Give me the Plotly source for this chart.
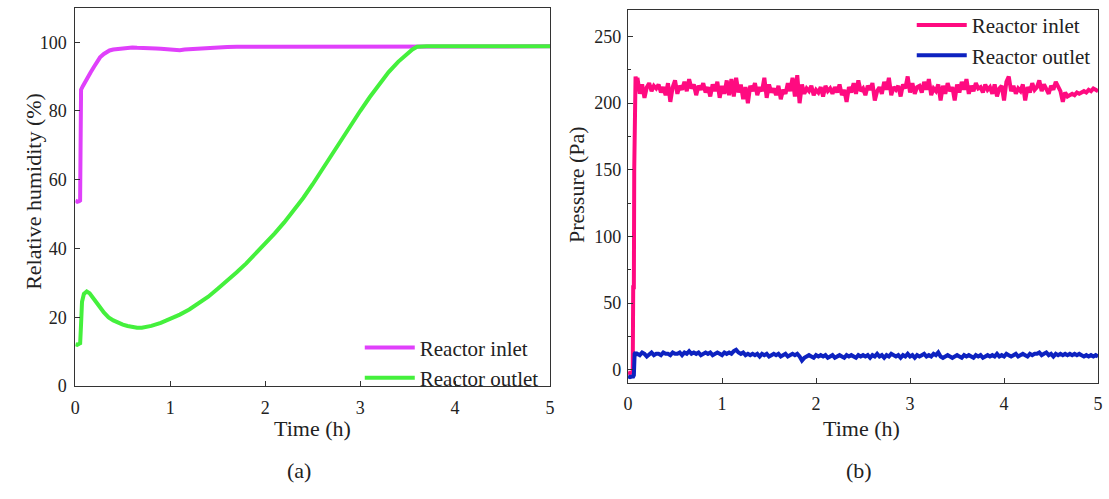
import plotly.graph_objects as go

# ---------------- data ----------------
# (a) relative humidity
RH_IN_T = [0.0, 0.02, 0.04, 0.05, 0.055, 0.06, 0.08, 0.10, 0.13, 0.16, 0.20, 0.23, 0.26, 0.30,
           0.33, 0.36, 0.40, 0.45, 0.50, 0.55, 0.60, 0.65, 0.70, 0.75, 0.80, 0.85, 0.90, 0.95,
           1.00, 1.05, 1.10, 1.15, 1.20, 1.30, 1.40, 1.50, 1.60, 1.70, 1.80, 2.00, 2.50, 3.00,
           3.60, 4.00, 4.50, 5.00]
RH_IN = [54.0, 53.6, 53.8, 54.0, 70.0, 86.2, 87.3, 88.4, 89.8, 91.2, 93.0, 94.3, 95.6, 96.6,
         97.2, 97.6, 97.9, 98.1, 98.3, 98.4, 98.5, 98.4, 98.4, 98.3, 98.3, 98.2, 98.1, 98.0,
         97.8, 97.7, 97.7, 97.9, 98.0, 98.2, 98.4, 98.5, 98.6, 98.7, 98.7, 98.7, 98.8, 98.8,
         98.8, 98.8, 98.9, 98.8]

RH_OUT_T = [0.0, 0.02, 0.04, 0.05, 0.06, 0.07, 0.09, 0.12, 0.15, 0.20, 0.25, 0.30, 0.35, 0.40,
            0.45, 0.50, 0.55, 0.60, 0.65, 0.70, 0.75, 0.80, 0.90, 1.00, 1.10, 1.20, 1.30, 1.40,
            1.50, 1.60, 1.70, 1.80, 1.90, 2.00, 2.10, 2.20, 2.30, 2.40, 2.50, 2.60, 2.70, 2.80,
            2.90, 3.00, 3.10, 3.20, 3.30, 3.40, 3.50, 3.55, 3.60, 3.70, 4.00, 4.50, 5.00]
RH_OUT = [12.2, 12.0, 12.3, 12.1, 18.0, 24.5, 26.8, 27.5, 27.0, 25.3, 23.3, 21.4, 20.0, 19.1,
          18.4, 17.9, 17.5, 17.2, 17.0, 17.0, 17.2, 17.5, 18.4, 19.5, 20.8, 22.3, 24.0, 26.0,
          28.3, 30.6, 33.1, 35.7, 38.5, 41.4, 44.4, 47.6, 51.0, 54.7, 58.7, 63.0, 67.4, 71.8,
          76.0, 80.0, 84.0, 87.8, 91.3, 94.3, 96.8, 97.9, 98.7, 98.8, 98.8, 98.8, 98.8]

# (b) pressure
P_START_T = [0.0, 0.02, 0.04, 0.05, 0.055, 0.062, 0.066, 0.07, 0.08, 0.09]
P_IN_START = [-2.0, -2.5, -2.0, -1.5, 62.0, 62.0, 150.0, 213.0, 220.0, 210.0]
P_OUT_START = [-5.0, -5.5, -5.0, -5.0, -5.0, -4.0, 11.0, 12.0, 13.0, 11.0]

P_T = [0.100, 0.125, 0.150, 0.175, 0.200, 0.225, 0.250, 0.275, 0.300, 0.325,
       0.350, 0.375, 0.400, 0.425, 0.450, 0.475, 0.500, 0.525, 0.550, 0.575,
       0.600, 0.625, 0.650, 0.675, 0.700, 0.725, 0.750, 0.775, 0.800, 0.825,
       0.850, 0.875, 0.900, 0.925, 0.950, 0.975, 1.000, 1.025, 1.050, 1.075,
       1.100, 1.125, 1.150, 1.175, 1.200, 1.225, 1.250, 1.275, 1.300, 1.325,
       1.350, 1.375, 1.400, 1.425, 1.450, 1.475, 1.500, 1.525, 1.550, 1.575,
       1.600, 1.625, 1.650, 1.675, 1.700, 1.725, 1.750, 1.775, 1.800, 1.825,
       1.850, 1.875, 1.900, 1.925, 1.950, 1.975, 2.000, 2.025, 2.050, 2.075,
       2.100, 2.125, 2.150, 2.175, 2.200, 2.225, 2.250, 2.275, 2.300, 2.325,
       2.350, 2.375, 2.400, 2.425, 2.450, 2.475, 2.500, 2.525, 2.550, 2.575,
       2.600, 2.625, 2.650, 2.675, 2.700, 2.725, 2.750, 2.775, 2.800, 2.825,
       2.850, 2.875, 2.900, 2.925, 2.950, 2.975, 3.000, 3.025, 3.050, 3.075,
       3.100, 3.125, 3.150, 3.175, 3.200, 3.225, 3.250, 3.275, 3.300, 3.325,
       3.350, 3.375, 3.400, 3.425, 3.450, 3.475, 3.500, 3.525, 3.550, 3.575,
       3.600, 3.625, 3.650, 3.675, 3.700, 3.725, 3.750, 3.775, 3.800, 3.825,
       3.850, 3.875, 3.900, 3.925, 3.950, 3.975, 4.000, 4.025, 4.050, 4.075,
       4.100, 4.125, 4.150, 4.175, 4.200, 4.225, 4.250, 4.275, 4.300, 4.325,
       4.350, 4.375, 4.400, 4.425, 4.450, 4.475, 4.500, 4.525, 4.550, 4.575,
       4.600, 4.625, 4.650, 4.675, 4.700, 4.725, 4.750, 4.775, 4.800, 4.825,
       4.850, 4.875, 4.900, 4.925, 4.950, 4.975, 5.000]

P_IN = [219, 207, 214, 204, 212, 215, 209, 213, 211, 214,
        208, 212, 206, 215, 201, 212, 217, 207, 213, 210,
        216, 209, 218, 211, 214, 206, 213, 210, 215, 208,
        212, 205, 214, 209, 216, 204, 213, 207, 217, 206,
        218, 205, 219, 208, 214, 203, 212, 200, 213, 209,
        215, 206, 212, 209, 219, 204, 214, 208, 211, 206,
        213, 203, 210, 207, 215, 209, 219, 205, 221, 200,
        214, 207, 211, 209, 213, 206, 210, 208, 212, 205,
        213, 209, 211, 207, 212, 208, 214, 206, 210, 201,
        212, 208, 215, 207, 217, 209, 211, 206, 213, 210,
        215, 202, 209, 212, 207, 216, 210, 219, 206, 212,
        210, 213, 205, 214, 211, 220, 208, 215, 207, 212,
        213, 208, 216, 210, 218, 206, 211, 209, 214, 202,
        213, 207, 215, 209, 212, 202, 214, 208, 216, 210,
        218, 207, 213, 209, 215, 211, 212, 208, 214, 210,
        212, 207, 214, 205, 211, 213, 202, 216, 220, 209,
        213, 207, 211, 209, 214, 202, 212, 208, 215, 210,
        212, 217, 209, 214, 211, 207, 213, 210, 216, 212,
        209, 201, 208, 205, 206, 207, 206, 208, 207, 208,
        209, 208, 210, 209, 211, 210, 209]

P_OUT = [12, 11, 13, 12, 10, 12, 13, 11, 12, 12,
         11, 13, 12, 12, 11, 13, 12, 12, 13, 11,
         13, 12, 14, 12, 13, 12, 13, 11, 12, 13,
         12, 13, 11, 12, 13, 12, 11, 13, 12, 13,
         12, 14, 15, 13, 12, 13, 11, 12, 11, 12,
         11, 12, 10, 12, 11, 12, 10, 11, 12, 11,
         12, 10, 11, 12, 10, 11, 12, 11, 12, 10,
         7, 9, 10, 11, 10, 9, 11, 10, 11, 10,
         11, 9, 10, 11, 9, 10, 11, 10, 9, 11,
         10, 11, 10, 9, 11, 10, 11, 10, 11, 9,
         11, 10, 12, 10, 11, 9, 11, 10, 12, 11,
         10, 11, 9, 11, 10, 12, 10, 11, 9, 11,
         10, 11, 12, 10, 11, 10, 12, 11, 13, 10,
         9, 10, 11, 10, 9, 10, 11, 10, 9, 11,
         10, 11, 10, 9, 11, 10, 11, 9, 10, 11,
         10, 11, 10, 12, 10, 11, 10, 12, 11, 10,
         11, 12, 10, 11, 12, 11, 10, 12, 11, 12,
         12, 13, 11, 12, 13, 11, 12, 10, 12, 11,
         12, 11, 12, 11, 12, 11, 12, 11, 12, 11,
         10, 11, 10, 11, 10, 11, 10]

X_TICKS = [0, 1, 2, 3, 4, 5]
RH_TICKS = [0, 20, 40, 60, 80, 100]
P_TICKS = [0, 50, 100, 150, 200, 250]
SERIES = ["Reactor inlet", "Reactor outlet"]

# ---------------- styling ----------------
W, H = 1109, 499
FONT = "Liberation Serif, Times New Roman, serif"
C_RH_IN, C_RH_OUT = "#e040fb", "#44f03c"
C_P_IN, C_P_OUT = "#ff0a80", "#0d22c0"
LW = 4


def fx(p):
    return p / W


def fy(p):
    return 1 - p / H


fig = go.Figure()
fig.add_trace(go.Scatter(x=RH_IN_T, y=RH_IN, mode="lines", name=SERIES[0],
                         line=dict(color=C_RH_IN, width=LW), xaxis="x", yaxis="y",
                         legend="legend"))
fig.add_trace(go.Scatter(x=RH_OUT_T, y=RH_OUT, mode="lines", name=SERIES[1],
                         line=dict(color=C_RH_OUT, width=LW), xaxis="x", yaxis="y",
                         legend="legend"))
fig.add_trace(go.Scatter(x=P_START_T + P_T, y=P_IN_START + P_IN, mode="lines", name=SERIES[0],
                         line=dict(color=C_P_IN, width=LW), xaxis="x2", yaxis="y2",
                         legend="legend2"))
fig.add_trace(go.Scatter(x=P_START_T + P_T, y=P_OUT_START + P_OUT, mode="lines", name=SERIES[1],
                         line=dict(color=C_P_OUT, width=LW), xaxis="x2", yaxis="y2",
                         legend="legend2"))

axis_common = dict(showline=True, mirror=True, linecolor="#333333", linewidth=1.2,
                   showgrid=False, zeroline=False, ticks="inside", ticklen=5,
                   tickcolor="#333333", tickwidth=1,
                   tickfont=dict(family=FONT, size=18, color="#222222"))

fig.update_layout(
    width=W, height=H,
    margin=dict(l=0, r=0, t=0, b=0),
    paper_bgcolor="white", plot_bgcolor="white",
    xaxis=dict(domain=[fx(71), fx(550)], range=[0, 5], tickvals=X_TICKS, anchor="y",
               ticklabelstandoff=5, **axis_common),
    yaxis=dict(domain=[fy(394), fy(8)], range=[0, 110], tickvals=RH_TICKS, anchor="x",
               ticklabelstandoff=4, **axis_common),
    xaxis2=dict(domain=[fx(628.7), fx(1103)], range=[0, 5], tickvals=X_TICKS, anchor="y2",
                ticklabelstandoff=4, **axis_common),
    yaxis2=dict(domain=[fy(391), fy(10)], range=[-10, 270], tickvals=P_TICKS, anchor="x2",
                minor=dict(ticks="inside", ticklen=3, dtick=25, tickcolor="#333333"),
                ticklabelstandoff=2, **axis_common),
    legend=dict(x=fx(358), y=fy(334), xanchor="left", yanchor="top",
                bgcolor="rgba(0,0,0,0)", itemwidth=50,
                font=dict(family=FONT, size=21, color="#222222"), tracegroupgap=0),
    legend2=dict(x=fx(915), y=fy(5), xanchor="left", yanchor="top",
                 bgcolor="rgba(0,0,0,0)", itemwidth=50,
                 font=dict(family=FONT, size=21, color="#222222"), tracegroupgap=0),
    showlegend=True,
)

ann_font = dict(family=FONT, size=22, color="#222222")
annotations = [
    dict(text="Relative humidity (%)", x=fx(28), y=fy(195), textangle=-90),
    dict(text="Pressure (Pa)", x=fx(576), y=fy(188), textangle=-90),
    dict(text="Time (h)", x=fx(310), y=fy(437)),
    dict(text="Time (h)", x=fx(864), y=fy(437)),
    dict(text="(a)", x=fx(297), y=fy(480)),
    dict(text="(b)", x=fx(862), y=fy(480)),
]
for a in annotations:
    fig.add_annotation(xref="paper", yref="paper", showarrow=False, xanchor="center",
                       yanchor="middle", font=ann_font, **a)

fig.write_html("out.html")
